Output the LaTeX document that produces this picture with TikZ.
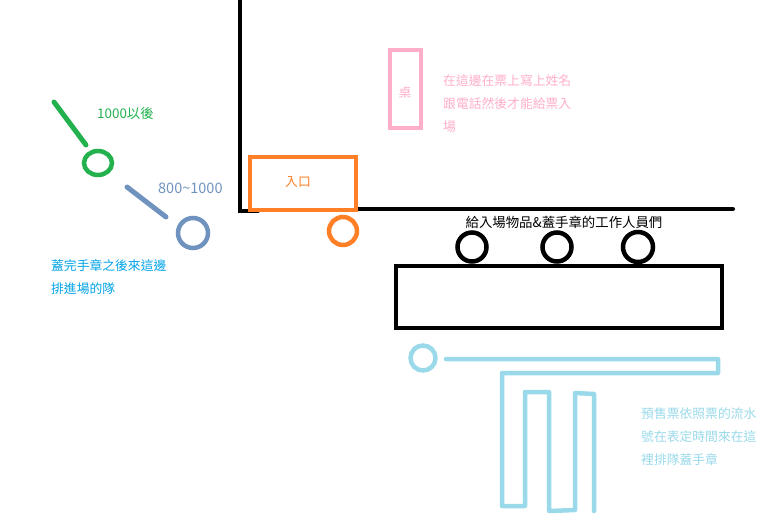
\documentclass[tikz,border=0pt]{standalone}
\usepackage{fontspec}
\setmainfont{Noto Sans CJK TC}
\definecolor{porange}{HTML}{FF7F27}
\definecolor{ppink}{HTML}{FFAEC9}
\definecolor{pgreen}{HTML}{22B14C}
\definecolor{pgray}{HTML}{7092BE}
\definecolor{pturq}{HTML}{00A2E8}
\definecolor{plight}{HTML}{99D9EA}
\tikzset{
  wall/.style={line width=4pt, line cap=round},
  box/.style={line width=4pt},
  person/.style={line width=4.5pt},
  lbl/.style={inner sep=0pt, anchor=west, font=\fontsize{12.8}{23}\selectfont},
  clbl/.style={inner sep=0pt, font=\fontsize{12.8}{23}\selectfont},
}
\begin{document}
\begin{tikzpicture}[x=1pt,y=-1pt]
\useasboundingbox (0,0) rectangle (780,524);
% walls
\draw[wall] (240,0) -- (240,211) -- (258,211);
\draw[wall] (357,209) -- (733,209);
% entrance
\draw[box, porange] (250,157) rectangle (356,210);
\node[clbl, text=porange] (entr) at (298,182) {入口};
\draw[person, porange] (343,231) circle (14);
% desk
\draw[box, ppink] (390,50) rectangle (421,128);
\node[clbl, text=ppink] (desk) at (405,93) {桌};
\node[lbl, text=ppink, align=left, anchor=north west] (desktxt) at (443,74.5)
  {在這邊在票上寫上姓名\\跟電話然後才能給票入\\場};
% staff
\node[clbl, font=\fontsize{13.4}{16}\selectfont] (stafftxt) at (564,222) {給入場物品\&蓋手章的工作人員們};
\draw[person] (472,247) circle (14.5);
\draw[person] (557,247) circle (14.5);
\draw[person] (638,247) circle (15);
\draw[box] (396,266) rectangle (722,328);
% green queue
\draw[line width=5pt, pgreen, line cap=round] (54,102) -- (86,145);
\draw[person, pgreen] (98,163) ellipse (14 and 12);
\node[lbl, text=pgreen, font=\fontsize{13.4}{16}\selectfont] (g) at (97,113) {1000以後};
% gray queue
\draw[line width=5pt, pgray, line cap=round] (127,187) -- (166,217);
\draw[person, pgray] (193,233) circle (15);
\node[lbl, text=pgray, font=\fontsize{14.5}{16}\selectfont] (gr) at (158,188) {800\textasciitilde1000};
% turquoise text
\node[lbl, text=pturq, align=left, anchor=north west] (tq) at (51,259.5)
  {蓋完手章之後來這邊\\排進場的隊};
% light blue queue
\draw[person, plight] (423,358) circle (12.5);
\draw[line width=4.5pt, plight, line join=round, line cap=round]
  (446,359) -- (718,359) -- (718,373) -- (502,373) -- (502,506) -- (525,506)
  -- (525,392) -- (549,392) -- (549,511) -- (575,510) -- (575,393) -- (594,394) -- (594,511);
\node[lbl, text=plight, align=left, anchor=north west] (lb) at (641,407.5)
  {預售票依照票的流水\\號在表定時間來在這\\裡排隊蓋手章};
\end{tikzpicture}
\end{document}
